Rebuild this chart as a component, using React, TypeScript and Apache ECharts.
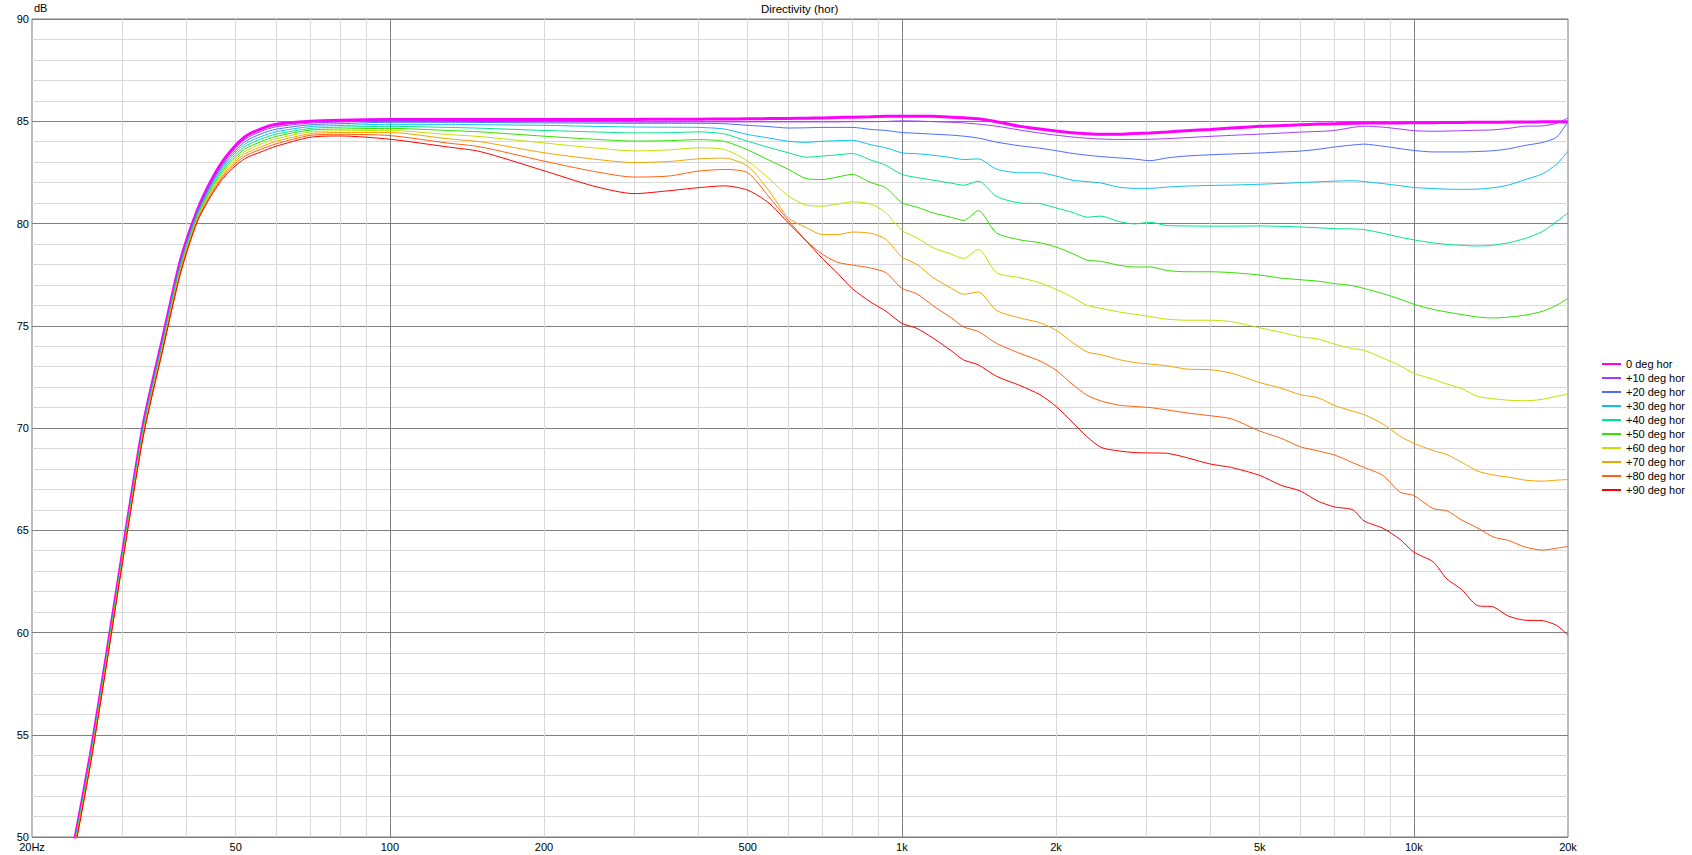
import React, { useEffect, useRef } from "react";
import * as echarts from "echarts";

// ---------- data ----------
const FREQ_HZ = [
  24, 26, 28, 30, 33, 36, 39, 42, 45, 48,
  52, 56, 60, 70, 80, 100, 130, 150, 200, 250,
  300, 350, 400, 450, 500, 550, 600, 650, 700, 750,
  800, 870, 930, 1000, 1070, 1150, 1250, 1320, 1410, 1530,
  1700, 1860, 2000, 2150, 2300, 2450, 2650, 2850, 3050, 3300,
  3600, 4000, 4400, 5000, 5500, 6000, 6500, 7000, 7600, 8000,
  8700, 9400, 10000, 10900, 11600, 12400, 13300, 14300, 15300, 16500,
  17800, 19000, 20000,
];

const DB_0 = [
  49.3, 54.0, 59.0, 63.8, 70.2, 74.4, 78.2, 80.6, 82.2, 83.3,
  84.22, 84.63, 84.85, 85.0, 85.05, 85.08, 85.08, 85.08, 85.08, 85.08,
  85.09, 85.1, 85.1, 85.11, 85.12, 85.13, 85.14, 85.15, 85.16, 85.18,
  85.2, 85.22, 85.24, 85.25, 85.25, 85.24, 85.2, 85.17, 85.12, 84.98,
  84.75, 84.62, 84.52, 84.44, 84.39, 84.36, 84.36, 84.4, 84.43, 84.48,
  84.54, 84.6, 84.67, 84.75, 84.79, 84.83, 84.86, 84.88, 84.9, 84.91,
  84.92, 84.92, 84.93, 84.93, 84.94, 84.94, 84.95, 84.95, 84.96, 84.96,
  84.97, 84.97, 84.98,
];

const DB_10 = [
  49.24, 53.94, 58.94, 63.74, 70.13, 74.33, 78.13, 80.54, 82.12, 83.2,
  84.1, 84.5, 84.73, 84.91, 84.96, 85.03, 85.0, 84.99, 84.98, 84.97,
  84.96, 84.96, 84.97, 84.97, 84.97, 84.97, 84.97, 84.97, 84.97, 84.97,
  84.98, 84.98, 84.99, 85.02, 85.01, 84.98, 84.95, 84.92, 84.86, 84.76,
  84.57, 84.42, 84.32, 84.23, 84.17, 84.13, 84.11, 84.11, 84.12, 84.15,
  84.2, 84.26, 84.31, 84.37, 84.42, 84.47, 84.5, 84.55, 84.7, 84.76,
  84.71, 84.62, 84.54, 84.51, 84.52, 84.54, 84.56, 84.58, 84.65, 84.76,
  84.77, 84.9, 85.16,
];

const DB_20 = [
  49.19, 53.89, 58.89, 63.69, 70.07, 74.27, 78.06, 80.48, 82.03, 83.1,
  83.98, 84.38, 84.61, 84.83, 84.88, 84.95, 84.95, 84.94, 84.92, 84.91,
  84.9, 84.9, 84.9, 84.88, 84.8, 84.74, 84.67, 84.68, 84.7, 84.7,
  84.7, 84.6, 84.55, 84.45, 84.41, 84.37, 84.32, 84.27, 84.18, 83.98,
  83.8, 83.68, 83.56, 83.43, 83.34, 83.27, 83.21, 83.15, 83.07, 83.21,
  83.3, 83.36, 83.4, 83.45, 83.5, 83.54, 83.63, 83.74, 83.84, 83.88,
  83.78, 83.66, 83.57, 83.5, 83.5, 83.5, 83.52, 83.56, 83.65, 83.82,
  83.96, 84.22, 85.0,
];

const DB_30 = [
  49.13, 53.83, 58.83, 63.63, 70.0, 74.2, 77.98, 80.42, 81.95, 83.01,
  83.87, 84.25, 84.49, 84.74, 84.79, 84.85, 84.85, 84.83, 84.8, 84.75,
  84.72, 84.71, 84.7, 84.62, 84.35, 84.18, 84.02, 83.97, 84.02, 84.05,
  84.07, 83.85, 83.7, 83.46, 83.41, 83.34, 83.22, 83.13, 83.16, 82.66,
  82.48, 82.48, 82.32, 82.12, 82.05, 81.98, 81.78, 81.72, 81.72, 81.78,
  81.83, 81.86, 81.88, 81.92, 81.96, 82.0, 82.04, 82.07, 82.09, 82.05,
  81.95, 81.85, 81.76, 81.71, 81.68, 81.67, 81.68, 81.75, 81.88, 82.15,
  82.42, 82.9, 83.54,
];

const DB_40 = [
  49.08, 53.78, 58.78, 63.58, 69.93, 74.13, 77.91, 80.36, 81.87, 82.91,
  83.75, 84.13, 84.37, 84.65, 84.71, 84.75, 84.7, 84.66, 84.55, 84.48,
  84.43, 84.44, 84.48, 84.38, 84.02, 83.72, 83.46, 83.24, 83.3, 83.36,
  83.42, 83.1, 82.85, 82.4, 82.25, 82.12, 81.97, 81.87, 82.07, 81.33,
  81.0, 80.97, 80.76, 80.55, 80.31, 80.36, 80.1, 79.98, 80.06, 79.9,
  79.88, 79.87, 79.87, 79.88, 79.86, 79.83, 79.79, 79.75, 79.73, 79.7,
  79.52, 79.33, 79.2, 79.05, 78.98, 78.93, 78.9, 78.94, 79.06, 79.27,
  79.6, 80.1, 80.52,
];

const DB_50 = [
  49.02, 53.72, 58.72, 63.52, 69.87, 74.07, 77.84, 80.29, 81.78, 82.81,
  83.63, 84.0, 84.26, 84.57, 84.62, 84.65, 84.55, 84.48, 84.27, 84.12,
  84.03, 84.05, 84.1, 84.02, 83.6, 83.1, 82.65, 82.2, 82.15, 82.28,
  82.4, 82.0, 81.75, 81.02, 80.8, 80.52, 80.3, 80.15, 80.63, 79.54,
  79.2, 79.06, 78.85, 78.54, 78.21, 78.15, 77.96, 77.87, 77.88, 77.7,
  77.64, 77.64, 77.6, 77.48, 77.33, 77.25, 77.18, 77.06, 76.96, 76.82,
  76.57, 76.3, 76.05, 75.8, 75.67, 75.55, 75.43, 75.38, 75.42, 75.52,
  75.7, 76.0, 76.34,
];

const DB_60 = [
  48.97, 53.67, 58.67, 63.47, 69.8, 74.0, 77.77, 80.23, 81.7, 82.71,
  83.51, 83.88, 84.14, 84.48, 84.53, 84.55, 84.35, 84.25, 83.94, 83.7,
  83.55, 83.6, 83.7, 83.62, 83.05, 82.2, 81.35, 80.9, 80.85, 80.95,
  81.06, 80.95, 80.53, 79.66, 79.3, 78.82, 78.5, 78.29, 78.73, 77.6,
  77.35, 77.1, 76.78, 76.4, 76.0, 75.85, 75.68, 75.56, 75.45, 75.32,
  75.27, 75.27, 75.2, 74.9, 74.68, 74.46, 74.35, 74.1, 73.88, 73.8,
  73.42, 73.05, 72.67, 72.39, 72.15, 71.93, 71.55, 71.43, 71.36, 71.33,
  71.4, 71.55, 71.66,
];

const DB_70 = [
  48.91, 53.61, 58.61, 63.41, 69.73, 73.93, 77.7, 80.17, 81.62, 82.61,
  83.39, 83.75, 84.02, 84.39, 84.45, 84.45, 84.14, 84.0, 83.46, 83.15,
  82.98, 83.03, 83.16, 83.2, 82.8, 81.6, 80.28, 79.8, 79.46, 79.46,
  79.58, 79.52, 79.23, 78.36, 78.0, 77.36, 76.83, 76.54, 76.65, 75.75,
  75.38, 75.15, 74.78, 74.2, 73.72, 73.58, 73.35, 73.2, 73.13, 73.04,
  72.88, 72.85, 72.68, 72.22, 71.95, 71.63, 71.48, 71.1, 70.82, 70.65,
  70.2, 69.6, 69.25, 68.9, 68.7, 68.32, 67.9, 67.7, 67.6, 67.45,
  67.4, 67.45, 67.48,
];

const DB_80 = [
  48.86, 53.56, 58.56, 63.36, 69.67, 73.87, 77.62, 80.11, 81.53, 82.52,
  83.28, 83.63, 83.9, 84.31, 84.36, 84.3, 83.93, 83.75, 83.05, 82.55,
  82.27, 82.32, 82.56, 82.64, 82.48, 81.3, 80.16, 79.16, 78.49, 78.1,
  77.97, 77.82, 77.6, 76.83, 76.56, 75.98, 75.38, 74.94, 74.72, 74.14,
  73.65, 73.28, 72.83, 72.15, 71.6, 71.32, 71.12, 71.05, 71.0, 70.88,
  70.74, 70.6, 70.45, 69.85, 69.5, 69.08, 68.88, 68.68, 68.3, 68.07,
  67.68, 66.86, 66.7, 66.06, 65.95, 65.5, 65.12, 64.67, 64.5, 64.18,
  64.03, 64.12, 64.21,
];

const DB_90 = [
  48.8, 53.5, 58.5, 63.3, 69.6, 73.8, 77.55, 80.05, 81.45, 82.42,
  83.16, 83.5, 83.78, 84.22, 84.28, 84.12, 83.74, 83.52, 82.58, 81.83,
  81.46, 81.6, 81.75, 81.84, 81.63, 81.0, 80.03, 79.15, 78.28, 77.55,
  76.82, 76.15, 75.72, 75.12, 74.87, 74.4, 73.77, 73.33, 73.09, 72.53,
  72.08, 71.63, 71.06, 70.3, 69.57, 69.05, 68.88, 68.8, 68.78, 68.76,
  68.55, 68.24, 68.07, 67.68, 67.2, 66.92, 66.42, 66.14, 66.0, 65.45,
  65.1, 64.55, 63.93, 63.46, 62.62, 62.1, 61.32, 61.25, 60.8, 60.6,
  60.58, 60.35, 59.87,
];

const SERIES_NAMES = [
  "0 deg hor", "+10 deg hor", "+20 deg hor", "+30 deg hor", "+40 deg hor",
  "+50 deg hor", "+60 deg hor", "+70 deg hor", "+80 deg hor", "+90 deg hor",
];
const SERIES_DB = [DB_0, DB_10, DB_20, DB_30, DB_40, DB_50, DB_60, DB_70, DB_80, DB_90];

const X_LABEL_VALUES = [20, 50, 100, 200, 500, 1000, 2000, 5000, 10000, 20000];
const X_LABEL_TEXTS = ["20Hz", "50", "100", "200", "500", "1k", "2k", "5k", "10k", "20k"];
const X_MINOR_GRID = [
  30, 40, 50, 60, 70, 80, 90,
  200, 300, 400, 500, 600, 700, 800, 900,
  2000, 3000, 4000, 5000, 6000, 7000, 8000, 9000,
];
const X_MAJOR_GRID = [100, 1000, 10000];

// ---------- styles ----------
const COLORS = [
  "#ff00ff", "#a03cff", "#4c6cff", "#10c0e8", "#00e58a",
  "#30e000", "#c4e000", "#f5a300", "#ff6010", "#ff0000",
];
const FONT = "'Liberation Sans', Arial, sans-serif";
const MINOR_COLOR = "#d9d9d9";
const MAJOR_COLOR = "#808080";

export default function App() {
  const ref = useRef<HTMLDivElement>(null);

  useEffect(() => {
    if (!ref.current) return;
    const chart = echarts.init(ref.current, null, { renderer: "svg" });

    const gridSeries = {
      type: "line",
      name: "__grid",
      data: [],
      silent: true,
      markLine: {
        silent: true,
        z: 1,
        animation: false,
        symbol: ["none", "none"],
        label: { show: false },
        data: [
          ...X_MINOR_GRID.map((f) => ({
            xAxis: f,
            lineStyle: { color: MINOR_COLOR, width: 1, type: "solid" },
          })),
          ...X_MAJOR_GRID.map((f) => ({
            xAxis: f,
            lineStyle: { color: MAJOR_COLOR, width: 1, type: "solid" },
          })),
        ],
      },
    };

    const lineSeries = SERIES_NAMES.map((name, si) => ({
      type: "line",
      name,
      data: FREQ_HZ.map((f, i) => [f, SERIES_DB[si][i]]),
      symbol: "none",
      showSymbol: false,
      silent: true,
      clip: true,
      smooth: 0.25,
      z: 3,
      lineStyle: { color: COLORS[si], width: si === 0 ? 3 : 1 },
      itemStyle: { color: COLORS[si] },
    }));

    const labelFor = (v: number) => {
      const idx = X_LABEL_VALUES.findIndex((x) => Math.abs(x - v) / x < 1e-4);
      return idx >= 0 ? X_LABEL_TEXTS[idx] : "";
    };

    chart.setOption({
      animation: false,
      backgroundColor: "#ffffff",
      textStyle: { fontFamily: FONT },
      title: {
        text: "Directivity (hor)",
        left: 761,
        top: 3,
        padding: 0,
        textStyle: { fontSize: 11.5, fontWeight: "normal", color: "#000", fontFamily: FONT },
      },
      grid: {
        left: 32,
        top: 19,
        right: 124,
        bottom: 18,
        show: true,
        borderColor: "#7a7a7a",
        borderWidth: 1,
        backgroundColor: "transparent",
      },
      legend: {
        orient: "vertical",
        left: 1601,
        top: 357,
        padding: 0,
        itemWidth: 19,
        itemHeight: 14,
        itemGap: 0,
        selectedMode: false,
        data: SERIES_NAMES,
        itemStyle: { opacity: 0, borderWidth: 0 },
        textStyle: { fontSize: 11, color: "#000", fontFamily: FONT, lineHeight: 14 },
      },
      xAxis: {
        type: "log",
        logBase: 10,
        min: 20,
        max: 20000,
        axisLine: { show: false },
        axisTick: { show: false },
        splitLine: { show: false },
        minorSplitLine: { show: false },
        axisLabel: {
          customValues: X_LABEL_VALUES,
          formatter: (v: number) => labelFor(v),
          fontSize: 11,
          color: "#000",
          fontFamily: FONT,
          margin: 4,
          hideOverlap: false,
          showMinLabel: true,
          showMaxLabel: true,
        },
      },
      yAxis: {
        type: "value",
        min: 50,
        max: 90,
        interval: 5,
        name: "dB",
        nameLocation: "end",
        nameGap: 2,
        nameTextStyle: {
          align: "left",
          verticalAlign: "bottom",
          fontSize: 11,
          color: "#000",
          fontFamily: FONT,
          padding: [0, 0, 0, 2],
        },
        axisLine: { show: false },
        axisTick: { show: false },
        axisLabel: { fontSize: 11, color: "#000", fontFamily: FONT, margin: 3 },
        splitLine: { show: true, lineStyle: { color: MAJOR_COLOR, width: 1 } },
        minorTick: { show: false, splitNumber: 5 },
        minorSplitLine: { show: true, lineStyle: { color: MINOR_COLOR, width: 1 } },
      },
      series: [gridSeries, ...lineSeries],
    });

    return () => {
      chart.dispose();
    };
  }, []);

  return (
    <div
      ref={ref}
      style={{ position: "fixed", left: 0, top: 0, width: 1692, height: 855, background: "#fff" }}
    />
  );
}
